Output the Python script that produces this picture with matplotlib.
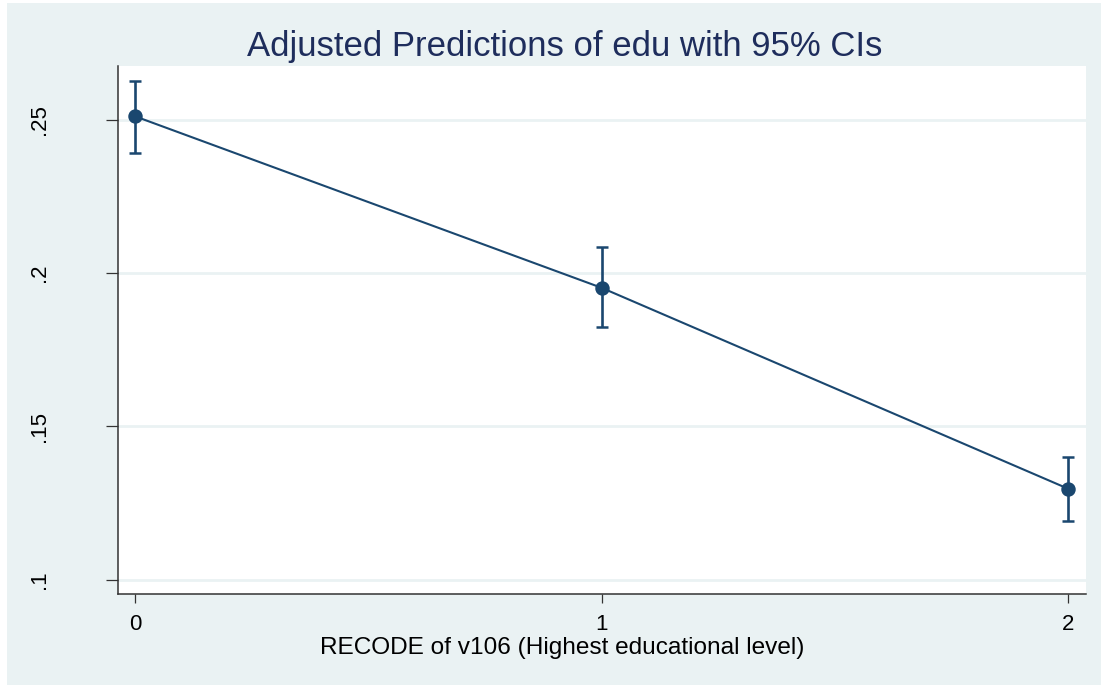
import matplotlib.pyplot as plt
from matplotlib.patches import Rectangle

# adjusted predictions (margins) with 95% CIs
levels = [0, 1, 2]
margin = [0.2511, 0.1952, 0.1297]
ci_low = [0.2393, 0.1823, 0.1193]
ci_high = [0.2627, 0.2086, 0.1399]
yticks = [0.1, 0.15, 0.2, 0.25]
yticklabels = [".1", ".15", ".2", ".25"]

W, H = 1101, 686
navy = "#1a476f"
bg = "#eaf2f3"

plt.rcParams["font.family"] = ["Liberation Sans", "DejaVu Sans"]

fig = plt.figure(figsize=(W / 100, H / 100), dpi=100, facecolor="white")
fig.patches.append(
    Rectangle((7 / W, 1 - 685 / H), 1 - 7 / W, (685 - 3) / H,
              transform=fig.transFigure, facecolor=bg, edgecolor="none", zorder=-5)
)

x0, x1, y0, y1 = 117.7, 1085.5, 65.7, 594
ax = fig.add_axes([x0 / W, 1 - y1 / H, (x1 - x0) / W, (y1 - y0) / H])
ax.set_zorder(1)
ax.set_facecolor("white")

err = [[m - l for m, l in zip(margin, ci_low)], [h - m for m, h in zip(margin, ci_high)]]
ax.errorbar(levels, margin, yerr=err, fmt="none", ecolor=navy, elinewidth=1.9,
            capsize=4.3, capthick=1.8, zorder=3)
ax.plot(levels, margin, color=navy, lw=1.5, marker="o", markersize=9.4,
        markerfacecolor=navy, markeredgecolor=navy, zorder=4)

ax.set_xlim(-0.0372, 2.0371)
ax.set_ylim(0.0954, 0.2676)
ax.set_xticks(levels)
ax.set_xticklabels([str(v) for v in levels])
ax.set_yticks(yticks)
ax.set_yticklabels(yticklabels, rotation=90, va="center")
ax.grid(axis="y", color=bg, lw=2)
ax.set_axisbelow(True)

for s in ["top", "right"]:
    ax.spines[s].set_visible(False)
for s in ["left", "bottom"]:
    ax.spines[s].set_color("#333333")
    ax.spines[s].set_linewidth(1.1)

ax.tick_params(axis="y", length=8.5, width=0.9, color="#333333", pad=40,
               labelsize=16, labelcolor="black")
ax.tick_params(axis="x", length=6.5, width=0.9, color="#333333", pad=8,
               labelsize=16, labelcolor="black")

fig.text(565 / W, 1 - 56 / H, "Adjusted Predictions of edu with 95% CIs",
         ha="center", va="baseline", fontsize=25, color="#1e2d5c", zorder=2)
fig.text(562 / W, 1 - 654 / H, "RECODE of v106 (Highest educational level)",
         ha="center", va="baseline", fontsize=17.6, color="black", zorder=2)

fig.savefig("out.png", dpi=100, facecolor=fig.get_facecolor())
